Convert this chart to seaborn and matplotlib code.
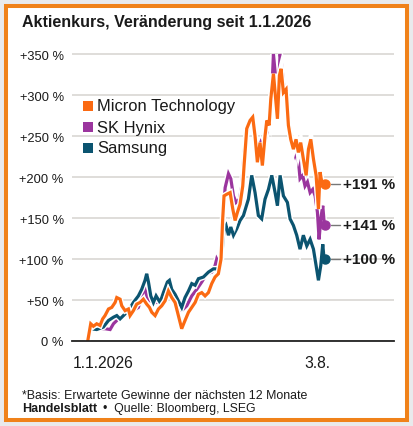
import matplotlib
matplotlib.use("Agg")
import matplotlib.pyplot as plt
import matplotlib.patheffects as pe
from matplotlib.patches import Rectangle
import numpy as np
import pandas as pd
import seaborn as sns

# ---------------- data (days since 1.1.2026, % change) ----------------
micron_day = [0, 2.7, 5.1, 8.1, 11.1, 13.5, 15.6, 18.7, 21.7, 24.7, 26.2, 29.2, 30.7, 33.7, 36.7,
              38.2, 41.2, 44.2, 47.2, 50.2, 53.2, 55.7, 57.8, 60.8, 63.8, 66.8, 69.8, 72.8, 75.8, 78.8,
              81.8, 84.8, 87.8, 90.9, 93.9, 96.9, 99.9, 102.9, 105.9, 108.9, 111.9, 114.9, 117.9, 120.3,
              121.8, 123.0, 125.5, 128.5, 130.9, 133.0, 135.1, 137.5, 139.9, 141.1, 143.5, 146.5, 148.9,
              151.0, 153.1, 155.5, 157.6, 160.0, 161.6, 163.7, 165.2, 167.6, 169.1, 171.2, 173.0, 174.5,
              176.6, 179.0, 181.1, 183.2, 185.6, 188.0, 190.1, 192.2, 194.6, 197.1, 199.2, 201.3, 203.7,
              206.1, 208.2, 209.7, 211.2, 214.2]
micron_pct = [0, 21, 18, 21, 19, 27, 31, 39, 41, 47, 53, 51, 43, 37, 39,
              31, 37, 45, 47, 51, 45, 41, 35, 31, 39, 43, 49, 61, 53, 47,
              31, 15, 25, 35, 41, 47, 57, 59, 55, 59, 70, 78, 82, 100,
              149, 177, 179, 181, 161, 147, 157, 167, 189, 214, 259, 269, 273,
              250, 218, 242, 214, 250, 269, 263, 295, 326, 303, 271, 324, 332,
              303, 307, 263, 246, 234, 246, 230, 242, 222, 202, 234, 246, 222,
              202, 161, 206, 194, 191]

hynix_day = [0, 3.6, 8.1, 12.6, 15.6, 20.2, 23.2, 26.2, 29.2, 32.2, 36.7, 41.2, 45.7, 50.2, 51.7,
             53.8, 56.3, 60.8, 65.3, 69.8, 74.3, 77.3, 80.3, 84.8, 89.4, 93.9, 98.4, 102.9, 107.4, 111.9,
             114.9, 116.4, 119.4, 121.5, 124.0, 127.0, 129.1, 131.5, 133.9, 136.9, 139.0, 141.1, 143.5,
             145.9, 148.9, 151.0, 154.0, 156.1, 158.5, 161.0, 164.0, 166.1, 167.6, 169.1, 171.2, 173.6,
             175.1, 177.2, 179.6, 182.0, 185.0, 187.1, 189.2, 191.6, 194.0, 196.1, 198.3, 200.7, 203.1,
             205.2, 207.3, 208.8, 210.3, 212.1, 213.6, 214.2]
hynix_pct = [0, 17, 15, 15, 15, 14, 21, 25, 29, 31, 33, 37, 41, 61, 63,
             53, 49, 47, 47, 55, 61, 53, 41, 37, 43, 55, 63, 72, 82, 84,
             92, 100, 92, 141, 187, 204, 198, 177, 169, 173, 189, 230, 255,
             265, 269, 250, 234, 242, 234, 250, 271, 303, 350, 328, 275, 350,
             336, 307, 295, 261, 234, 226, 234, 198, 202, 189, 194, 181, 185,
             177, 157, 124, 149, 165, 141, 141]

samsung_day = [0, 2.7, 8.1, 14.1, 18.7, 23.2, 26.2, 29.2, 32.2, 36.7, 41.2, 45.7, 48.7, 51.7, 53.2,
               54.8, 56.9, 59.3, 61.7, 65.3, 68.3, 71.9, 73.7, 75.8, 78.8, 81.8, 84.8, 87.8, 90.9, 93.9,
               96.9, 99.9, 104.4, 108.9, 113.4, 116.4, 119.4, 121.2, 123.0, 124.8, 127.0, 129.1, 131.5,
               134.5, 137.5, 140.5, 145.0, 148.0, 151.0, 154.0, 157.0, 160.0, 163.1, 166.1, 169.1, 171.2,
               173.6, 176.6, 180.2, 182.6, 185.6, 188.6, 191.6, 194.6, 197.7, 200.7, 203.7, 206.1, 208.2,
               210.3, 212.1, 213.3, 214.2]
samsung_pct = [0, 15, 14, 17, 25, 29, 31, 27, 31, 37, 47, 55, 63, 74, 82,
               72, 55, 47, 55, 47, 59, 72, 74, 63, 57, 49, 41, 53, 61, 70,
               68, 76, 78, 84, 88, 88, 88, 108, 137, 141, 129, 139, 129,
               137, 147, 153, 173, 202, 181, 153, 149, 173, 185, 202, 181, 165,
               202, 177, 169, 149, 141, 129, 112, 129, 116, 124, 112, 92, 74,
               92, 118, 100, 100]

series_names = ["Micron Technology", "SK Hynix", "Samsung"]
end_labels = ["+191 %", "+141 %", "+100 %"]
y_ticks = [0, 50, 100, 150, 200, 250, 300, 350]
y_tick_labels = ["0 %", "+50 %", "+100 %", "+150 %", "+200 %", "+250 %", "+300 %", "+350 %"]
month_ticks = [31, 59, 90, 120, 151, 181, 212]
x_major = [0, 214.2]
x_labels = ["1.1.2026", "3.8."]
title = "Aktienkurs, Veränderung seit 1.1.2026"
footnote = "*Basis: Erwartete Gewinne der nächsten 12 Monate"
source_brand = "Handelsblatt"
source_rest = "•  Quelle: Bloomberg, LSEG"

colors = {"Micron Technology": "#fb6a12", "SK Hynix": "#9b359e", "Samsung": "#0b5470"}

df = pd.concat([
    pd.DataFrame({"day": micron_day, "pct": micron_pct, "company": "Micron Technology"}),
    pd.DataFrame({"day": hynix_day, "pct": hynix_pct, "company": "SK Hynix"}),
    pd.DataFrame({"day": samsung_day, "pct": samsung_pct, "company": "Samsung"}),
], ignore_index=True)

sns.set_theme(style="white")
plt.rcParams["font.family"] = ["Liberation Sans", "DejaVu Sans"]
TXT = "#1a1a1a"

W, H = 413, 427
fig = plt.figure(figsize=(W / 100, H / 100), dpi=100)
fig.patch.set_facecolor("#e9eaec")
fig.patches.append(Rectangle((6 / W, 1 - 421 / H), (407 - 6) / W, (421 - 7) / H,
                             transform=fig.transFigure, facecolor="white",
                             edgecolor="#f0821a", linewidth=2.9, zorder=-10))

ax = fig.add_axes([72 / W, 85 / H, (394 - 72) / W, (342 - 53.4) / H])
ax.set_facecolor("none")

order = ["SK Hynix", "Samsung", "Micron Technology"]
sns.lineplot(data=df, x="day", y="pct", hue="company", hue_order=order,
             palette=colors, estimator=None, sort=False, linewidth=2.3,
             legend=False, ax=ax)
for ln in ax.lines:
    ln.set_path_effects([pe.Stroke(linewidth=4.3, foreground="white"), pe.Normal()])
    ln.set_solid_joinstyle("miter")

ax.set_xlim(-14.2, 276.4)
ax.set_ylim(0, 352)

# end markers + labels
ends = {"Micron Technology": (micron_day[-1], micron_pct[-1]),
        "SK Hynix": (hynix_day[-1], hynix_pct[-1]),
        "Samsung": (samsung_day[-1], samsung_pct[-1])}
for name, lab in zip(series_names, end_labels):
    d, v = ends[name]
    ax.plot([d], [v], "o", color=colors[name], ms=6.5, mec=colors[name], zorder=5)
    ax.plot([d + 5.4, d + 13.5], [v, v], color="#777777", lw=1.0, clip_on=False)
    ax.text(d + 16.2, v, lab, fontsize=11, fontweight="bold", color=TXT,
            va="center", ha="left", clip_on=False)

# axes styling
ax.set_yticks(y_ticks)
ax.set_yticklabels(y_tick_labels, fontsize=9.3, color=TXT)
ax.tick_params(axis="y", length=0, pad=6)
ax.set_xticks(x_major)
ax.set_xticklabels([])
ax.set_xticks(month_ticks, minor=True)
ax.tick_params(axis="x", which="both", direction="out", length=5.5, width=1.2,
               color="#333333")
ax.grid(axis="y", color="#dcdad7", linewidth=1.3)
ax.grid(axis="x", visible=False)
ax.set_axisbelow(True)
for s in ["left", "right", "top"]:
    ax.spines[s].set_visible(False)
ax.spines["bottom"].set_color("#222222")
ax.spines["bottom"].set_linewidth(1.3)
ax.set_xlabel("")
ax.set_ylabel("")

# date labels (as in the original: left-aligned start, centred end label)
xt = ax.get_xaxis_transform()
ax.text(x_major[0] - 13.3, -0.075, x_labels[0], transform=xt, fontsize=11.3, color=TXT,
        ha="left", va="center", clip_on=False)
ax.text(x_major[1] - 6.8, -0.075, x_labels[1], transform=xt, fontsize=11.3, color=TXT,
        ha="center", va="center", clip_on=False)

# legend (manual)
for i, name in enumerate(series_names):
    yc = 107 + 21 * i
    fig.patches.append(Rectangle((83 / W, 1 - (yc + 5) / H), 10 / W, 10 / H,
                                 transform=fig.transFigure, facecolor=colors[name],
                                 edgecolor="none", zorder=3))
    fig.text(97 / W, 1 - yc / H, name, fontsize=11.9, color=TXT, va="center", ha="left")

# title & footer
fig.text(22 / W, 1 - 22 / H, title, fontsize=11.5, fontweight="bold", color=TXT,
         va="center", ha="left")
fig.text(22 / W, 1 - 396 / H, footnote, fontsize=8.9, color=TXT, va="center", ha="left")
t_brand = fig.text(22 / W, 1 - 409.5 / H, source_brand, fontsize=9.0, fontweight="bold",
                   color=TXT, va="center", ha="left")
fig.canvas.draw()
bb = t_brand.get_window_extent()
fig.text((bb.x1 + 6) / W, 1 - 409.5 / H, source_rest, fontsize=8.8, color=TXT,
         va="center", ha="left")

fig.savefig("out.png", dpi=100, facecolor=fig.get_facecolor())
